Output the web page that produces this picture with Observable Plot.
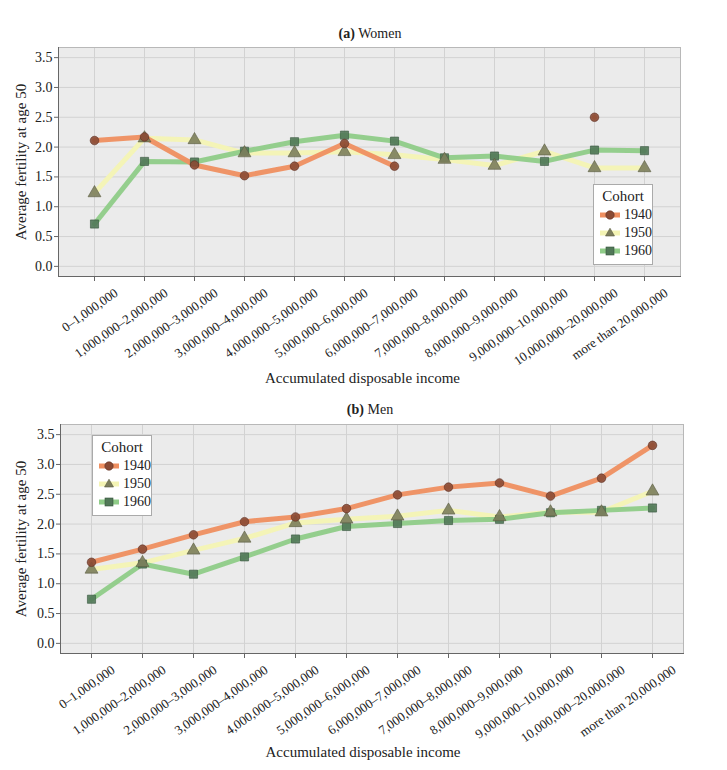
<!DOCTYPE html>
<html>
<head>
<meta charset="utf-8">
<script src="https://cdn.jsdelivr.net/npm/d3@7"></script>
<script src="https://cdn.jsdelivr.net/npm/@observablehq/plot@0.6"></script>
<style>
  body { margin: 0; background: #fff; }
  #root { position: relative; width: 727px; height: 770px; font-family: "Liberation Serif", "DejaVu Serif", serif; color: #222; }
  .ttl { position: absolute; left: 0; width: 740px; text-align: center; font-size: 14px; line-height: 16px; }
  .leg { position: absolute; width: 58px; background: #fff; border: 1px solid #aaa; font-size: 14px; line-height: 18px; }
  .leg .head { text-align: center; font-size: 15px; margin-top: 2px; margin-bottom: 1px; }
  .leg .row { display: flex; align-items: center; height: 18px; padding-left: 5px; }
  .leg svg { margin-right: 3px; }
  svg.plot { position: absolute; left: 0; }
</style>
</head>
<body>
<div id="root">
  <div class="ttl" style="top:26px"><b>(a)</b> Women</div>
  <div class="ttl" style="top:402px"><b>(b)</b> Men</div>
</div>
<script>
const cats = [
  "0–1,000,000", "1,000,000–2,000,000", "2,000,000–3,000,000", "3,000,000–4,000,000",
  "4,000,000–5,000,000", "5,000,000–6,000,000", "6,000,000–7,000,000", "7,000,000–8,000,000",
  "8,000,000–9,000,000", "9,000,000–10,000,000", "10,000,000–20,000,000", "more than 20,000,000"
];
const cohorts = ["1940", "1950", "1960"];
const yTicks = [0, 0.5, 1, 1.5, 2, 2.5, 3, 3.5];

const women1940 = [2.11, 2.17, 1.70, 1.52, 1.68, 2.06, 1.68, null, null, null, 2.50, null];
const women1950 = [1.23, 2.15, 2.12, 1.90, 1.90, 1.92, 1.87, 1.79, 1.69, 1.93, 1.65, 1.65];
const women1960 = [0.71, 1.76, 1.75, 1.93, 2.09, 2.20, 2.10, 1.82, 1.85, 1.76, 1.95, 1.94];

const men1940 = [1.36, 1.58, 1.82, 2.04, 2.12, 2.26, 2.49, 2.62, 2.69, 2.47, 2.77, 3.32];
const men1950 = [1.24, 1.35, 1.56, 1.76, 2.02, 2.08, 2.13, 2.23, 2.12, 2.20, 2.20, 2.55];
const men1960 = [0.74, 1.33, 1.16, 1.45, 1.75, 1.96, 2.01, 2.06, 2.08, 2.19, 2.23, 2.27];

const lineColors = {"1940": "#ef8f60", "1950": "#f4f4b4", "1960": "#8fcc88"};
const markColors = {"1940": "#8a4a34", "1950": "#7c7e5c", "1960": "#517858"};
const markStroke = {"1940": "#5e2e20", "1950": "#5a5c40", "1960": "#36553d"};
const symbols = {"1940": "circle", "1950": "triangle", "1960": "square"};
const sizes = {"1940": 4.3, "1950": 4.8, "1960": 4.6};
const FONT = '"Liberation Serif", "DejaVu Serif", serif';

function rows(vals, cohort) {
  return cats.map((c, i) => ({cat: c, value: vals[i], cohort}));
}

function panel(series, o) {
  const lineOrder = ["1950", "1960", "1940"];
  const dotOrder = ["1960", "1950", "1940"];
  const marks = [
    Plot.frame({fill: "#ebebeb"}),
    Plot.gridY(yTicks, {stroke: "#d2d2d2", strokeOpacity: 1}),
    Plot.gridX({stroke: "#d2d2d2", strokeOpacity: 1}),
    Plot.frame({stroke: "#b8b8b8"}),
    Plot.frame({anchor: "left", stroke: "#666"}),
    Plot.frame({anchor: "bottom", stroke: "#666"}),
    Plot.axisY(yTicks, {tickSize: 4, tickPadding: 2, tickFormat: d3.format(".1f"), fontSize: 14, label: null, stroke: "#666"}),
    Plot.axisX({tickSize: 5, tickFormat: () => "", label: null, stroke: "#666"}),
    Plot.text(cats, {x: d => d, frameAnchor: "bottom", rotate: -35, textAnchor: "end", lineAnchor: "middle", dx: 22, dy: 15, fontSize: 13, fill: "#222"}),
    Plot.text(["Accumulated disposable income"], {frameAnchor: "bottom", textAnchor: "middle", lineAnchor: "middle", dx: o.xlDx, dy: o.xlDy, fontSize: 15, fill: "#222"}),
    Plot.text(["Average fertility at age 50"], {frameAnchor: "left", textAnchor: "middle", lineAnchor: "middle", rotate: -90, dx: o.ylDx, fontSize: 15, fill: "#222"})
  ];
  for (const c of lineOrder) {
    marks.push(Plot.line(rows(series[c], c), {x: "cat", y: "value", stroke: lineColors[c], strokeWidth: 5, strokeOpacity: 0.95}));
  }
  for (const c of dotOrder) {
    marks.push(Plot.dot(rows(series[c], c).filter(d => d.value != null), {
      x: "cat", y: "value", symbol: symbols[c], r: sizes[c],
      fill: markColors[c], fillOpacity: 0.9, stroke: markStroke[c], strokeWidth: 0.6
    }));
  }
  const svg = Plot.plot({
    width: 727,
    height: o.height,
    marginTop: o.marginTop,
    marginBottom: o.marginBottom,
    marginLeft: o.marginLeft,
    marginRight: o.marginRight,
    x: {type: "point", domain: cats, padding: 0.6, axis: null},
    y: {domain: [-0.17, 3.67], axis: null},
    style: {color: "#222", background: "transparent", overflow: "visible"},
    marks
  });
  svg.classList.add("plot");
  svg.style.top = o.top + "px";
  svg.style.fontFamily = FONT;
  svg.querySelectorAll("g, text").forEach(el => {
    el.removeAttribute("font-family");
    el.style.fontFamily = FONT;
  });
  return svg;
}

function legend(left, top) {
  const div = document.createElement("div");
  div.className = "leg";
  div.style.left = left + "px";
  div.style.top = top + "px";
  let html = '<div class="head">Cohort</div>';
  for (const c of cohorts) {
    let sym;
    if (c === "1940") sym = `<circle cx="11" cy="7" r="4.2" fill="${markColors[c]}" stroke="${markStroke[c]}" stroke-width="0.6"/>`;
    else if (c === "1950") sym = `<path d="M11,2.2 L15.5,10 L6.5,10 Z" fill="${markColors[c]}" stroke="${markStroke[c]}" stroke-width="0.6"/>`;
    else sym = `<rect x="7" y="3" width="8" height="8" fill="${markColors[c]}" stroke="${markStroke[c]}" stroke-width="0.6"/>`;
    html += `<div class="row"><svg width="22" height="14"><line x1="1" x2="21" y1="7" y2="7" stroke="${lineColors[c]}" stroke-width="5"/>${sym}</svg><span>${c}</span></div>`;
  }
  div.innerHTML = html + '<div style="height:4px"></div>';
  return div;
}

const root = document.getElementById("root");
root.appendChild(panel({"1940": women1940, "1950": women1950, "1960": women1960},
  {top: 44, height: 344, marginTop: 3, marginBottom: 112, marginLeft: 58, marginRight: 47, xlDx: -7, xlDy: 102, ylDx: -37}));
root.appendChild(panel({"1940": men1940, "1950": men1950, "1960": men1960},
  {top: 421, height: 341, marginTop: 3, marginBottom: 109, marginLeft: 60, marginRight: 44, xlDx: -9, xlDy: 99, ylDx: -39}));
root.appendChild(legend(593, 184));
root.appendChild(legend(92, 435));
</script>
</body>
</html>
